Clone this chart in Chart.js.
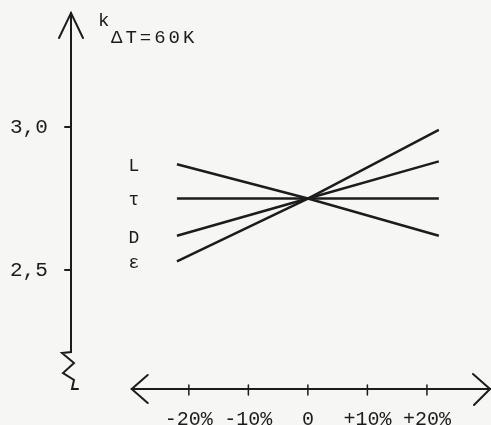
<!DOCTYPE html>
<html>
<head>
<meta charset="utf-8">
<script src="https://cdn.jsdelivr.net/npm/chart.js@4/dist/chart.umd.min.js"></script>
<style>
  html, body { margin: 0; padding: 0; background: #f6f6f4; }
  #wrap { width: 491px; height: 425px; }
</style>
</head>
<body>
<div id="wrap"><canvas id="kChart" width="491" height="425"></canvas></div>
<script>
// values
var xValues = [-22, 0, 22];
var kL = [2.87, 2.75, 2.62];
var kTau = [2.75, 2.75, 2.75];
var kD = [2.62, 2.75, 2.88];
var kEps = [2.53, 2.75, 2.99];
var seriesNames = ['L', 'τ', 'D', 'ε'];

var xTicks = [-20, -10, 0, 10, 20];
var xTickLabels = ['-20%', '-10%', '0', '+10%', '+20%'];
var yTicks = [2.5, 3.0];
var yTickLabels = ['2,5', '3,0'];

var ink = '#1c1c1c';
var mono = '"Liberation Mono", "DejaVu Sans Mono", monospace';

function toPoints(ys) {
    return xValues.map((x, i) => ({ x: x, y: ys[i] }));
}

function makeSet(name, ys) {
    return {
        label: name,
        data: toPoints(ys),
        borderColor: ink,
        borderWidth: 2.5,
        pointRadius: 0,
        tension: 0,
        fill: false
    };
}

// hand-drawn looking axes, arrows and labels
var sketchAxes = {
    id: 'sketchAxes',
    afterDatasetsDraw(chart) {
        var ctx = chart.ctx;
        var xs = chart.scales.x, ys = chart.scales.y;
        var area = chart.chartArea;
        var ax = area.left, bottom = area.bottom;

        ctx.save();
        ctx.strokeStyle = ink;
        ctx.fillStyle = ink;
        ctx.lineWidth = 2;
        ctx.lineCap = 'round';

        // y axis with arrow and break
        ctx.beginPath();
        ctx.moveTo(ax, area.top);
        ctx.lineTo(ax, bottom - 37);
        ctx.lineTo(ax - 9, bottom - 36);
        ctx.lineTo(ax + 3, bottom - 26);
        ctx.lineTo(ax - 8, bottom - 16);
        ctx.lineTo(ax + 3, bottom - 9);
        ctx.lineTo(ax + 1, bottom);
        ctx.lineTo(ax + 7, bottom);
        ctx.stroke();

        ctx.beginPath();
        ctx.moveTo(ax - 12, area.top + 25);
        ctx.lineTo(ax, area.top);
        ctx.lineTo(ax + 12, area.top + 25);
        ctx.stroke();

        yTicks.forEach(v => {
            var py = ys.getPixelForValue(v);
            ctx.beginPath();
            ctx.moveTo(ax - 6, py);
            ctx.lineTo(ax, py);
            ctx.stroke();
        });

        // x axis, double arrow
        var xl = xs.getPixelForValue(-29.6);
        var xr = area.right;
        ctx.beginPath();
        ctx.moveTo(xl, bottom);
        ctx.lineTo(xr, bottom);
        ctx.stroke();
        ctx.beginPath();
        ctx.moveTo(xl + 16, bottom - 14);
        ctx.lineTo(xl, bottom);
        ctx.lineTo(xl + 16, bottom + 14);
        ctx.moveTo(xr - 17, bottom - 15);
        ctx.lineTo(xr, bottom);
        ctx.lineTo(xr - 16, bottom + 16);
        ctx.stroke();

        ctx.lineWidth = 1.5;
        xTicks.forEach(v => {
            var px = xs.getPixelForValue(v);
            ctx.beginPath();
            ctx.moveTo(px, bottom - 4);
            ctx.lineTo(px, bottom + 6);
            ctx.stroke();
        });

        // series names at the left end of each line
        ctx.font = '18px ' + mono;
        ctx.textAlign = 'center';
        ctx.textBaseline = 'middle';
        chart.data.datasets.forEach(ds => {
            var p = ds.data[0];
            ctx.fillText(ds.label, xs.getPixelForValue(p.x) - 43, ys.getPixelForValue(p.y) + 2);
        });

        // axis title k with subscript
        ctx.textAlign = 'left';
        ctx.textBaseline = 'alphabetic';
        ctx.font = '19px ' + mono;
        ctx.fillText('k', 98, 26);
        ctx.letterSpacing = '3px';
        ctx.fillText('ΔT=60K', 111, 43);
        ctx.restore();
    }
};

var kChart = new Chart(document.getElementById('kChart'), {
    type: 'line',
    data: {
        datasets: [
            makeSet(seriesNames[0], kL),
            makeSet(seriesNames[1], kTau),
            makeSet(seriesNames[2], kD),
            makeSet(seriesNames[3], kEps)
        ]
    },
    options: {
        responsive: false,
        animation: false,
        layout: { autoPadding: false, padding: { top: 13, right: 1, left: 10, bottom: 0 } },
        plugins: {
            legend: { display: false },
            tooltip: { enabled: false }
        },
        scales: {
            x: {
                type: 'linear',
                min: -39.8,
                max: 30.6,
                grid: { display: false, drawTicks: false },
                border: { display: false },
                afterBuildTicks: axis => { axis.ticks = xTicks.map(v => ({ value: v })); },
                afterFit: axis => { axis.height = 36; },
                ticks: {
                    padding: 19,
                    color: ink,
                    maxRotation: 0,
                    autoSkip: false,
                    font: { family: mono, size: 20 },
                    callback: v => xTickLabels[xTicks.indexOf(v)]
                }
            },
            y: {
                type: 'linear',
                min: 2.084,
                max: 3.399,
                grid: { display: false, drawTicks: false },
                border: { display: false },
                afterBuildTicks: axis => { axis.ticks = yTicks.map(v => ({ value: v })); },
                afterFit: axis => { axis.width = 61; },
                ticks: {
                    padding: 0,
                    crossAlign: 'far',
                    color: ink,
                    autoSkip: false,
                    font: { family: mono, size: 21 },
                    callback: v => yTickLabels[yTicks.indexOf(v)]
                }
            }
        }
    },
    plugins: [sketchAxes]
});
</script>
</body>
</html>
